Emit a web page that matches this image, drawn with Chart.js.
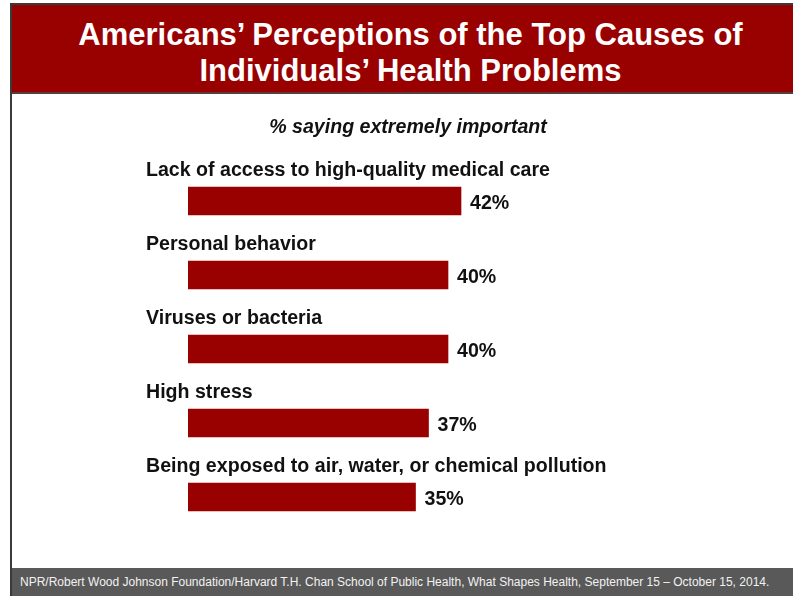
<!DOCTYPE html>
<html>
<head>
<meta charset="utf-8">
<script src="https://cdn.jsdelivr.net/npm/chart.js@4"></script>
<style>
  body { margin: 0; background: #fff; font-family: "Liberation Sans", Arial, sans-serif; }
  #slide { position: relative; width: 793px; height: 596px; overflow: hidden; }
  #frame { position: absolute; left: 10px; top: 3px; right: -5px; bottom: -5px; border: 2px solid #3a3a3a; }
  #banner { position: absolute; left: 12px; top: 5px; width: 800px; height: 89px; background: #990000;
            border-bottom: 2px solid #5a3a3a; color: #fff; font-weight: bold; font-size: 31px; line-height: 36px;
            text-align: center; box-sizing: border-box; padding-top: 12px; padding-right: 3px; }
  #footer { position: absolute; left: 12px; top: 568px; width: 800px; height: 28px; background: #595959;
            color: #f2f2f2; font-size: 12px; line-height: 29px; padding-left: 8px; white-space: nowrap; }
  canvas { position: absolute; left: 0; top: 0; }
</style>
</head>
<body>
<div id="slide">
  <div id="frame"></div>
  <canvas id="chart" width="793" height="596"></canvas>
  <div id="banner">Americans’ Perceptions of the Top Causes of<br>Individuals’ Health Problems</div>
  <div id="footer">NPR/Robert Wood Johnson Foundation/Harvard T.H. Chan School of Public Health, What Shapes Health, September 15 – October 15, 2014.</div>
</div>
<script>
// survey answers, % saying extremely important
const causes = [
  'Lack of access to high-quality medical care',
  'Personal behavior',
  'Viruses or bacteria',
  'High stress',
  'Being exposed to air, water, or chemical pollution'
];
const percents = [42, 40, 40, 37, 35];

const subtitle = '% saying extremely important';
const barColor = '#990000';

// category names sit above each bar, value to the right of it
const barLabels = {
  id: 'barLabels',
  afterDatasetsDraw(chart) {
    const ctx = chart.ctx;
    const meta = chart.getDatasetMeta(0);
    ctx.save();
    ctx.fillStyle = '#111';
    ctx.font = 'bold 19.6px "Liberation Sans", Arial, sans-serif';
    meta.data.forEach((bar, i) => {
      const top = bar.y - bar.height / 2;
      ctx.textAlign = 'left';
      ctx.textBaseline = 'alphabetic';
      ctx.fillText(causes[i], 146, top - 11);
      ctx.textBaseline = 'middle';
      ctx.fillText(percents[i] + '%', bar.x + 9, bar.y + 3);
    });
    ctx.font = 'italic bold 19.6px "Liberation Sans", Arial, sans-serif';
    ctx.textAlign = 'center';
    ctx.textBaseline = 'alphabetic';
    ctx.fillText(subtitle, 408, 133);
    ctx.restore();
  }
};

new Chart(document.getElementById('chart'), {
  type: 'bar',
  data: {
    labels: causes,
    datasets: [{
      data: percents,
      backgroundColor: barColor,
      borderWidth: 0,
      barThickness: 28
    }]
  },
  options: {
    indexAxis: 'y',
    responsive: false,
    animation: false,
    devicePixelRatio: 1,
    layout: { padding: { left: 188, right: 85, top: 164, bottom: 62 } },
    scales: {
      x: { display: false, min: 0, max: 80 },
      y: { display: false }
    },
    plugins: {
      legend: { display: false },
      tooltip: { enabled: false }
    }
  },
  plugins: [barLabels]
});
</script>
</body>
</html>
